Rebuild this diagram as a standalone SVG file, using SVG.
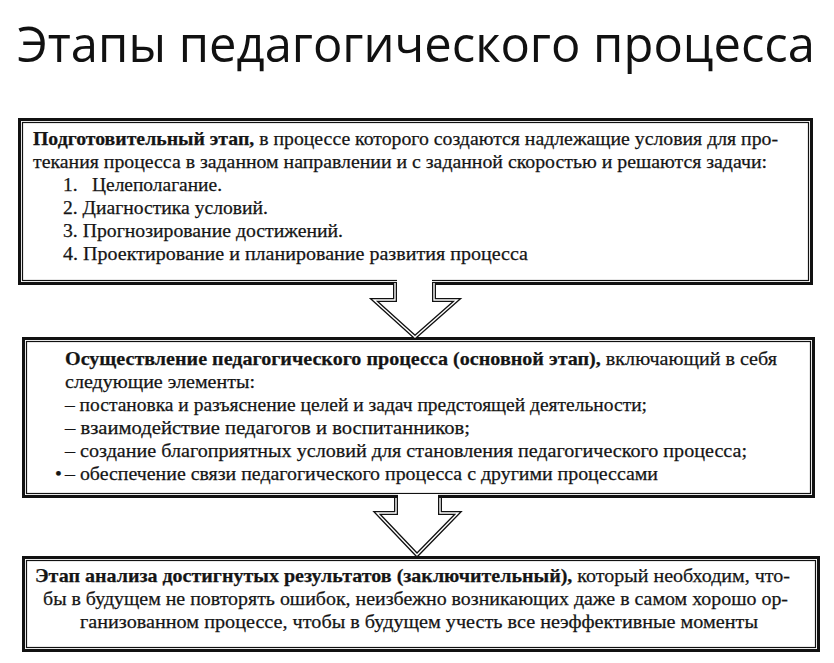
<svg xmlns="http://www.w3.org/2000/svg" width="834" height="663" viewBox="0 0 834 663">
<style>
.bg{fill:#ffffff}
.outer{fill:#ffffff;stroke:#111;stroke-width:3}
.inner{fill:none;stroke:#111;stroke-width:1.2}
.title{font-family:"Open Sans","Noto Sans",sans-serif;font-size:50px;fill:#111}
.t{font-family:"Liberation Serif","Times New Roman",serif;font-size:19.5px;fill:#151515;stroke:#151515;stroke-width:0.25}
.b{font-weight:bold}
.arrfill{fill:#ffffff;stroke:none}
.arr1{fill:none;stroke:#111;stroke-width:4;stroke-linejoin:miter}
.arr2{fill:none;stroke:#ffffff;stroke-width:1.4;stroke-linejoin:miter}
</style>
<rect class="bg" x="0" y="0" width="834" height="663"/>
<text class="title" x="17" y="62" textLength="798" lengthAdjust="spacingAndGlyphs">Этапы педагогического процесса</text>

<g id="node-prep">
<rect class="outer" x="19.5" y="119.5" width="792" height="164"/>
<rect class="inner" x="22.5" y="122.5" width="786" height="158"/>
<text class="t" x="33" y="145" textLength="745" lengthAdjust="spacingAndGlyphs"><tspan class="b">Подготовительный этап,</tspan> в процессе которого создаются надлежащие условия для про-</text>
<text class="t" x="33" y="168" textLength="734" lengthAdjust="spacingAndGlyphs">текания процесса в заданном направлении и с заданной скоростью  и решаются задачи:</text>
<text class="t" x="63" y="191">1.</text>
<text class="t" x="92" y="191" textLength="130" lengthAdjust="spacingAndGlyphs">Целеполагание.</text>
<text class="t" x="63" y="214" textLength="205" lengthAdjust="spacingAndGlyphs">2. Диагностика условий.</text>
<text class="t" x="63" y="237" textLength="280" lengthAdjust="spacingAndGlyphs">3. Прогнозирование достижений.</text>
<text class="t" x="63" y="260" textLength="465" lengthAdjust="spacingAndGlyphs">4. Проектирование и планирование развития процесса</text>
</g>

<g id="node-main">
<rect class="outer" x="23.5" y="338.5" width="790" height="158"/>
<rect class="inner" x="26.5" y="341.5" width="784" height="152"/>
<text class="t" x="65" y="365" textLength="712" lengthAdjust="spacingAndGlyphs"><tspan class="b">Осуществление педагогического процесса (основной этап),</tspan> включающий в себя</text>
<text class="t" x="65" y="388" textLength="190" lengthAdjust="spacingAndGlyphs">следующие элементы:</text>
<text class="t" x="65" y="411" textLength="582" lengthAdjust="spacingAndGlyphs">– постановка и разъяснение целей и задач предстоящей деятельности;</text>
<text class="t" x="65" y="434" textLength="405" lengthAdjust="spacingAndGlyphs">– взаимодействие педагогов и воспитанников;</text>
<text class="t" x="65" y="457" textLength="682" lengthAdjust="spacingAndGlyphs">– создание благоприятных условий для становления педагогического процесса;</text>
<text class="t" x="55" y="480">•</text>
<text class="t" x="65" y="480" textLength="593" lengthAdjust="spacingAndGlyphs">– обеспечение связи педагогического процесса с другими процессами</text>
</g>

<g id="node-final">
<rect class="outer" x="23.5" y="557.5" width="795" height="93"/>
<rect class="inner" x="26.5" y="560.5" width="789" height="87"/>
<text class="t" x="35" y="582" textLength="755" lengthAdjust="spacingAndGlyphs"><tspan class="b">Этап анализа достигнутых результатов (заключительный),</tspan> который необходим,  что-</text>
<text class="t" x="43" y="605" textLength="745" lengthAdjust="spacingAndGlyphs">бы в будущем не повторять ошибок, неизбежно возникающих даже в самом хорошо ор-</text>
<text class="t" x="80" y="628" textLength="678" lengthAdjust="spacingAndGlyphs">ганизованном процессе, чтобы в будущем учесть  все неэффективные моменты</text>
</g>

<g id="connectors">
<polygon class="arrfill" points="397,278 397,300 376,300 415,335 455,300 432,300 432,278"/>
<path class="arr1" d="M395,283 V300 H374 L415,337 L457,300 H434 V283"/>
<path class="arr2" d="M395,283 V300 H374 L415,337 L457,300 H434 V283"/>
<polygon class="arrfill" points="398,494 398,513 379,513 417,552 456,513 438,513 438,494"/>
<path class="arr1" d="M396,498 V513 H377 L417,555 L458,513 H440 V498"/>
<path class="arr2" d="M396,498 V513 H377 L417,555 L458,513 H440 V498"/>
</g>
</svg>
